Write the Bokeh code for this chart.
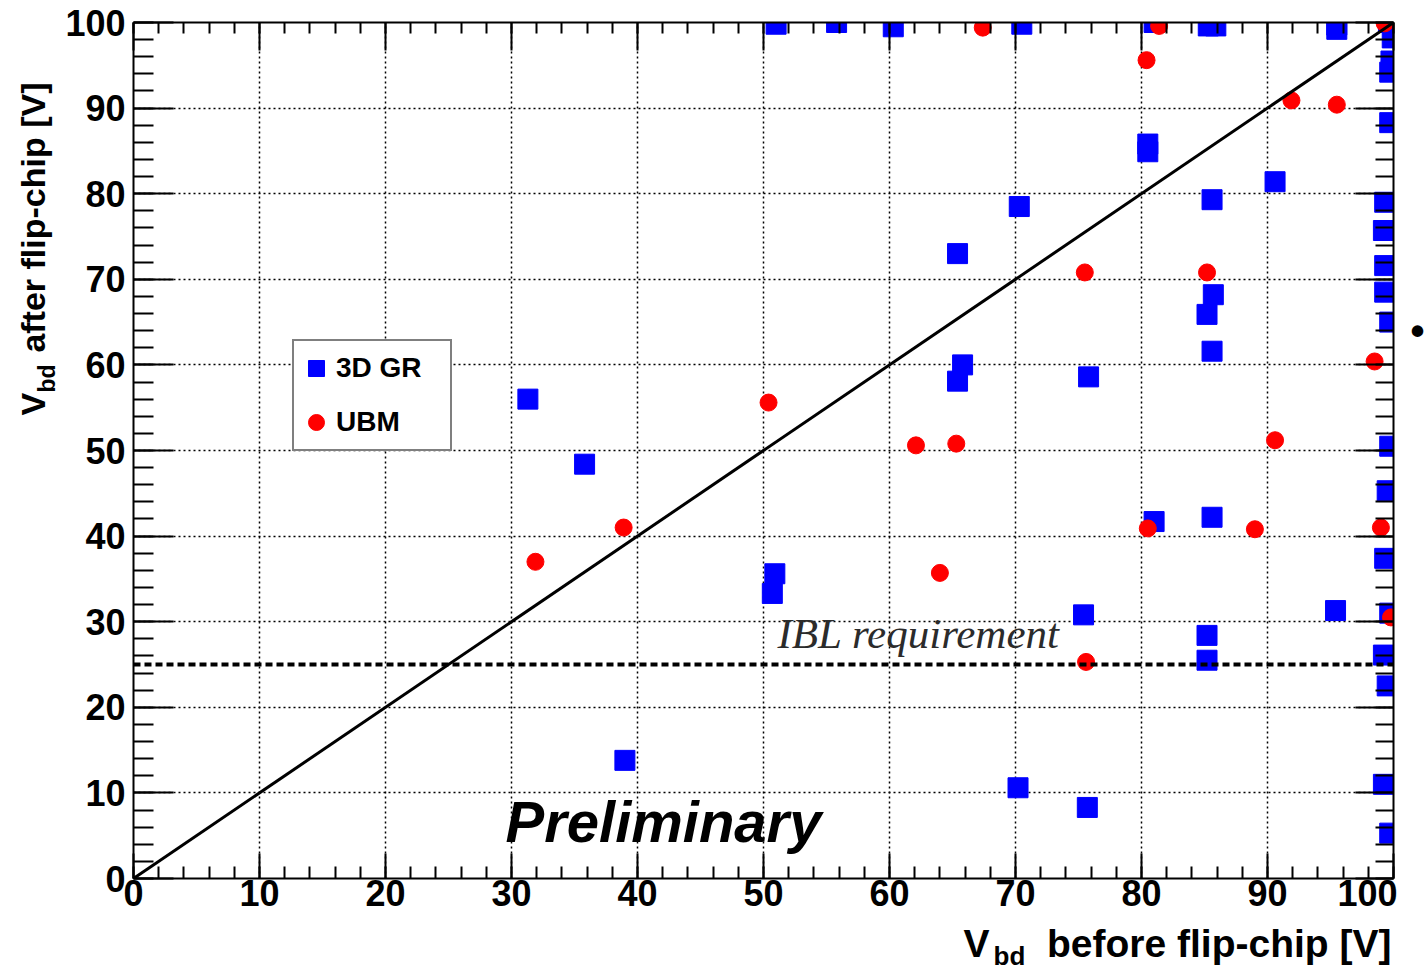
import math
from bokeh.plotting import figure
from bokeh.layouts import row, column
from bokeh.models import (LinearAxis, Range1d, Label, Span, Slope, Legend,
                          LegendItem, FixedTicker)
from bokeh.embed import file_html
from bokeh.resources import INLINE

# ---------------- data ----------------
gr_x = [51.0, 55.8, 60.3, 70.5, 81.0, 85.3, 85.9, 95.5, 95.5, 99.6,
        99.9, 99.8, 99.7, 99.7, 80.5, 80.5, 90.6, 85.6, 70.3, 99.3,
        99.2, 65.4, 99.3, 99.3, 85.7, 85.2, 99.7, 85.6, 65.8, 65.4,
        75.8, 31.3, 35.8, 99.7, 99.5, 81.0, 85.6, 99.3, 50.9, 50.7,
        75.4, 95.4, 99.7, 85.2, 85.2, 99.2, 99.5, 39.0, 70.2, 75.7,
        99.2, 99.7]
gr_y = [99.8, 100.0, 99.5, 99.8, 100.0, 99.6, 99.6, 99.7, 99.2, 100.0,
        98.2, 95.5, 94.2, 88.3, 85.8, 84.9, 81.4, 79.3, 78.5, 79.0,
        75.7, 73.0, 71.6, 68.5, 68.2, 65.9, 65.0, 61.6, 60.0, 58.1,
        58.6, 56.0, 48.4, 50.5, 45.3, 41.7, 42.2, 37.4, 35.6, 33.3,
        30.8, 31.3, 31.0, 28.4, 25.5, 26.1, 22.5, 13.8, 10.6, 8.3,
        11.0, 5.3]

ubm_x = [67.4, 81.4, 99.3, 80.4, 91.9, 95.5, 75.5, 85.2, 98.5, 50.4,
         62.1, 65.3, 90.6, 38.9, 80.5, 89.0, 99.0, 31.9, 64.0, 99.8,
         75.6]
ubm_y = [99.4, 99.6, 99.9, 95.6, 90.9, 90.4, 70.8, 70.8, 60.4, 55.6,
         50.6, 50.8, 51.2, 41.0, 40.9, 40.8, 41.0, 37.0, 35.7, 30.5,
         25.3]

major_ticks = list(range(0, 101, 10))
minor_ticks = list(range(0, 101, 2))
IBL_REQ = 25

FONT = "Liberation Sans"
BASE_SHIFT = 0.34  # empirical baseline correction (fraction of font size)

# ---------------- main plot ----------------
p = figure(width=1337, height=920, x_range=Range1d(0, 100), y_range=Range1d(0, 100),
           output_backend="svg", toolbar_location=None,
           min_border_left=73, min_border_right=4, min_border_top=22,
           min_border_bottom=42)
p.outline_line_color = None
p.background_fill_color = "white"
p.border_fill_color = "white"


def style_axis(ax, tin, minin, labels=True):
    ax.ticker = FixedTicker(ticks=major_ticks, minor_ticks=minor_ticks)
    ax.major_tick_in = tin
    ax.major_tick_out = 0
    ax.minor_tick_in = minin
    ax.minor_tick_out = 0
    ax.axis_line_width = 2
    ax.major_tick_line_width = 2
    ax.minor_tick_line_width = 2
    ax.axis_line_color = "black"
    ax.major_tick_line_color = "black"
    ax.minor_tick_line_color = "black"
    if labels:
        ax.major_label_text_font = FONT
        ax.major_label_text_font_style = "bold"
        ax.major_label_text_font_size = "36px"
        ax.major_label_text_color = "black"
    else:
        ax.major_label_overrides = {t: "" for t in major_ticks}
        ax.major_label_text_color = None
        ax.major_label_text_font_size = "1px"
        ax.major_label_standoff = 0


style_axis(p.xaxis[0], 25, 12)
p.xaxis[0].major_label_standoff = 1
style_axis(p.yaxis[0], 40, 20)
p.yaxis[0].major_label_standoff = 8
top = LinearAxis()
style_axis(top, 28, 11, labels=False)
p.add_layout(top, "above")
right = LinearAxis()
style_axis(right, 38, 18, labels=False)
p.add_layout(right, "right")

for g in (p.xgrid[0], p.ygrid[0]):
    g.ticker = FixedTicker(ticks=major_ticks)
    g.grid_line_color = "black"
    g.grid_line_width = 1.5
    g.grid_line_dash = "2 3"

r_gr = p.scatter(gr_x, gr_y, marker="square", size=20, color="#0000ff")
r_ubm = p.scatter(ubm_x, ubm_y, marker="circle", size=17, color="#ff0000")

p.add_layout(Slope(gradient=1, y_intercept=0, line_color="black", line_width=3))
p.add_layout(Span(location=IBL_REQ, dimension="width", line_color="black",
                  line_width=4, line_dash="7 4"))

legend = Legend(items=[LegendItem(label="3D GR", renderers=[r_gr]),
                       LegendItem(label="UBM", renderers=[r_ubm])],
                location=(159, 427), glyph_width=40, glyph_height=50,
                label_height=50, spacing=4, padding=2, margin=0,
                label_standoff=0, label_width=112,
                label_text_font=FONT, label_text_font_style="bold",
                label_text_font_size="28px", label_text_color="black",
                border_line_color="black", border_line_width=2,
                background_fill_color="white", background_fill_alpha=1.0)
p.add_layout(legend)


def lab(fig, text, x, y, size, style="bold", font=FONT, align="left", angle=0,
        color="black"):
    fig.add_layout(Label(text=text, x=x, y=y, x_units="screen", y_units="screen",
                         text_font=font, text_font_style=style,
                         text_font_size=f"{size}px", text_align=align, angle=angle,
                         text_baseline="alphabetic", text_color=color))


lab(p, "IBL requirement", 644, 230 + BASE_SHIFT * 43, 43, style="italic",
    font="Liberation Serif", color="#2b2b2b")
lab(p, "Preliminary", 372, 37 + BASE_SHIFT * 58, 58, style="bold italic")


def blank_fig(w, h):
    f = figure(width=w, height=h, x_range=Range1d(0, w), y_range=Range1d(0, h),
               output_backend="svg", toolbar_location=None,
               x_axis_location=None, y_axis_location=None, min_border=0)
    f.outline_line_color = None
    f.grid.visible = False
    f.background_fill_color = "white"
    f.border_fill_color = "white"
    return f


# ---------------- y axis title (left strip) ----------------
L = blank_fig(60, 970)
lab(L, "V", 44 - BASE_SHIFT * 34, 555, 34, angle=math.pi / 2)
lab(L, "bd", 54 - BASE_SHIFT * 23, 578, 23, angle=math.pi / 2)
lab(L, "after flip-chip [V]", 44 - BASE_SHIFT * 34, 888, 34, angle=math.pi / 2,
    align="right")

# ---------------- x axis title (bottom strip; its frame is aligned with the main frame) ----------------
B = blank_fig(1337, 50)
lab(B, "V", 830, 14 + BASE_SHIFT * 39, 39)
lab(B, "bd", 860, 6 + BASE_SHIFT * 26, 26)
lab(B, "before flip-chip [V]", 1258, 14 + BASE_SHIFT * 39, 39, align="right")

# ---------------- right strip with the stray dot ----------------
R = blank_fig(30, 970)
lab(R, "\u2022", 20, 640, 40, align="center")

layout = row(L, column(p, B), R)
open("out.html", "w").write(file_html(layout, INLINE))
